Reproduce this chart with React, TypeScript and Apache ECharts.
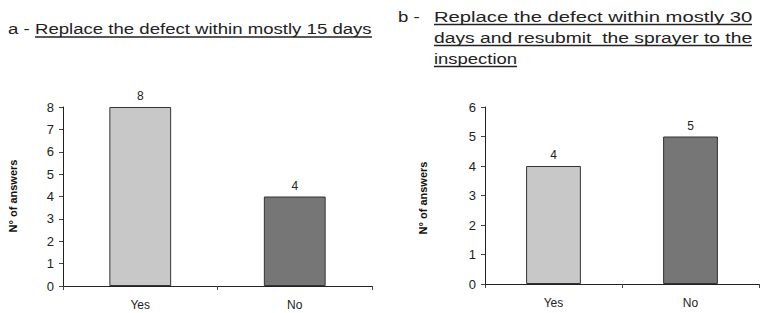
import React, { useEffect, useRef } from "react";
import * as echarts from "echarts";

const categories = ["Yes", "No"];
const valuesA = [8, 4];
const valuesB = [4, 5];
const barColors = ["#c8c8c8", "#767676"];
const yTitle = "N° of answers";
const titleA = "Replace the defect within mostly 15 days";
const titleBLines = [
  "Replace the defect within mostly 30",
  "days and resubmit  the sprayer to the",
  "inspection",
];

const FONT = "'Liberation Sans', Arial, sans-serif";
const TXT = "#222";

export default function App() {
  const ref = useRef<HTMLDivElement>(null);
  useEffect(() => {
    if (!ref.current) return;
    const chart = echarts.init(ref.current, null, { renderer: "svg" });
    const mkData = (vals: number[]) =>
      vals.map((v, i) => ({
        value: v,
        itemStyle: { color: barColors[i], borderColor: "#333", borderWidth: 1 },
      }));
    const axisLine = { show: true, lineStyle: { color: "#222", width: 1 } };
    const xAxisBase = {
      type: "category" as const,
      data: categories,
      axisLine,
      axisTick: { show: true, length: 4, alignWithLabel: false, lineStyle: { color: "#444" } },
      axisLabel: { color: TXT, fontSize: 12, fontFamily: FONT, margin: 13 },
      splitLine: { show: false },
    };
    const yAxisBase = {
      type: "value" as const,
      min: 0,
      interval: 1,
      axisLine,
      axisTick: { show: true, length: 4, lineStyle: { color: "#444" } },
      axisLabel: { color: TXT, fontSize: 13, fontFamily: FONT, margin: 9 },
      splitLine: { show: false },
    };
    const labelCfg = {
      show: true,
      position: "top" as const,
      distance: 5,
      color: TXT,
      fontSize: 12,
      fontFamily: FONT,
    };
    const scaleLine1 = 1.35;
    const scaleLine2 = 1.285;
    chart.setOption({
      animation: false,
      grid: [
        { left: 63, top: 107, width: 309, height: 179 },
        { left: 485, top: 107, width: 274, height: 177 },
      ],
      xAxis: [
        { ...xAxisBase, gridIndex: 0 },
        { ...xAxisBase, gridIndex: 1 },
      ],
      yAxis: [
        { ...yAxisBase, gridIndex: 0, max: 8 },
        { ...yAxisBase, gridIndex: 1, max: 6 },
      ],
      series: [
        {
          type: "bar",
          xAxisIndex: 0,
          yAxisIndex: 0,
          barWidth: "40%",
          data: mkData(valuesA),
          label: labelCfg,
        },
        {
          type: "bar",
          xAxisIndex: 1,
          yAxisIndex: 1,
          barWidth: "40%",
          data: mkData(valuesB),
          label: labelCfg,
        },
      ],
      graphic: [
        {
          type: "text",
          x: 13,
          y: 196,
          rotation: Math.PI / 2,
          style: { text: yTitle, font: `bold 11px ${FONT}`, fill: "#111", align: "center", verticalAlign: "middle" },
        },
        {
          type: "text",
          x: 423,
          y: 198,
          rotation: Math.PI / 2,
          style: { text: yTitle, font: `bold 11px ${FONT}`, fill: "#111", align: "center", verticalAlign: "middle" },
        },
        {
          type: "text",
          x: 8,
          y: 29,
          scaleX: 1.24,
          style: { text: "a - ", font: `15px ${FONT}`, fill: TXT, align: "left", verticalAlign: "middle" },
        },
        {
          type: "text",
          x: 35,
          y: 29,
          scaleX: 1.24,
          style: { text: titleA, font: `15px ${FONT}`, fill: TXT, align: "left", verticalAlign: "middle" },
        },
        { type: "line", shape: { x1: 35, y1: 37, x2: 372, y2: 37 }, style: { stroke: TXT, lineWidth: 1.5 } },
        {
          type: "text",
          x: 398,
          y: 17,
          scaleX: 1.24,
          style: { text: "b - ", font: `15px ${FONT}`, fill: TXT, align: "left", verticalAlign: "middle" },
        },
        {
          type: "text",
          x: 434,
          y: 17,
          scaleX: scaleLine1,
          style: { text: titleBLines[0], font: `15px ${FONT}`, fill: TXT, align: "left", verticalAlign: "middle" },
        },
        {
          type: "text",
          x: 434,
          y: 38,
          scaleX: scaleLine2,
          style: { text: titleBLines[1], font: `15px ${FONT}`, fill: TXT, align: "left", verticalAlign: "middle" },
        },
        {
          type: "text",
          x: 434,
          y: 59,
          scaleX: 1.23,
          style: { text: titleBLines[2], font: `15px ${FONT}`, fill: TXT, align: "left", verticalAlign: "middle" },
        },
        { type: "line", shape: { x1: 434, y1: 24.5, x2: 752, y2: 24.5 }, style: { stroke: TXT, lineWidth: 1.5 } },
        { type: "line", shape: { x1: 434, y1: 45.5, x2: 752, y2: 45.5 }, style: { stroke: TXT, lineWidth: 1.5 } },
        { type: "line", shape: { x1: 434, y1: 66.5, x2: 517, y2: 66.5 }, style: { stroke: TXT, lineWidth: 1.5 } },
      ],
    });
    return () => chart.dispose();
  }, []);
  return (
    <div
      ref={ref}
      style={{ position: "fixed", left: 0, top: 0, width: 760, height: 313, background: "#fff" }}
    />
  );
}
